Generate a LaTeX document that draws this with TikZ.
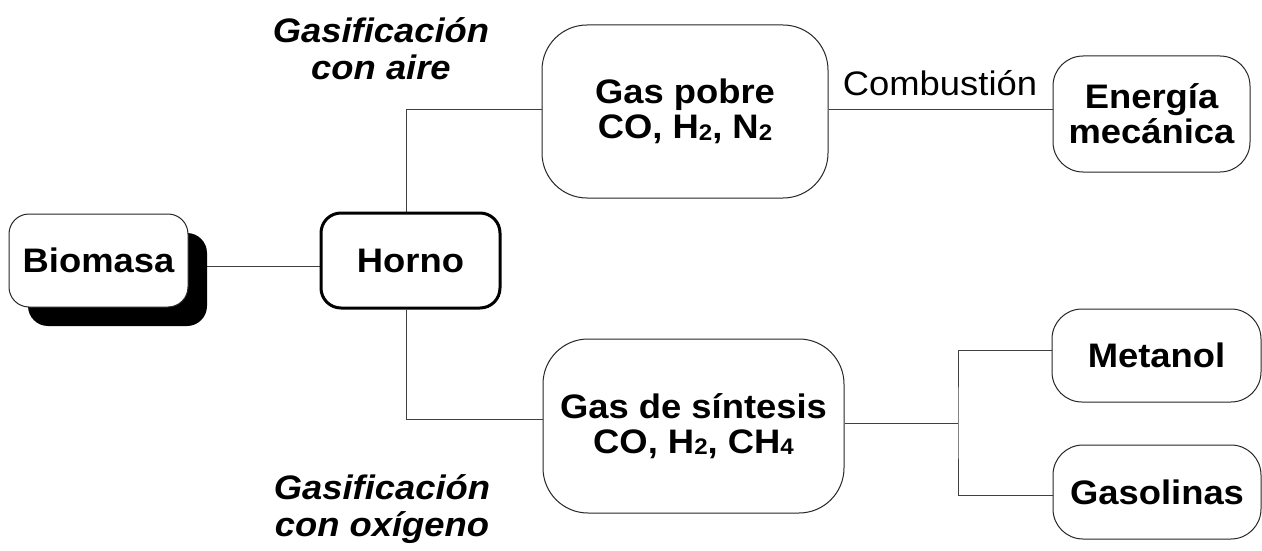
\documentclass[tikz,border=0pt]{standalone}
\usepackage{fontspec}
\setmainfont[FakeStretch=1.07]{Liberation Sans}
\usetikzlibrary{shadows,backgrounds}
\newcommand\subsc[1]{\raisebox{-1.5pt}{\fontsize{22.5}{22.5}\selectfont #1}}
\begin{document}
\begin{tikzpicture}[x=1pt,y=-1pt,
  box/.style={draw=black!85, line width=1pt, fill=white, inner sep=0pt, align=center,
    font=\fontsize{34}{35}\selectfont\bfseries},
  conn/.style={draw=black!75, line width=1pt},
  lab/.style={align=center, inner sep=0pt, font=\fontsize{34}{37}\selectfont\bfseries\itshape}]
\useasboundingbox (0,0) rectangle (1262,551);

\node[box, rounded corners=20pt, minimum width=179pt, minimum height=93pt,
  drop shadow={shadow xshift=19pt, shadow yshift=-19pt, fill=black, opacity=1}]
  (bio) at (98.5,260.5) {Biomasa};
\node[box, rounded corners=20pt, line width=3pt, draw=black, minimum width=179pt, minimum height=95pt]
  (horno) at (410.5,260.5) {\raisebox{-2pt}{Horno}};
\node[box, rounded corners=45pt, minimum width=286pt, minimum height=173pt]
  (gp) at (685,111.5) {Gas pobre\\CO, H\subsc{2}, N\subsc{2}};
\node[box, rounded corners=30pt, minimum width=197pt, minimum height=116pt]
  (en) at (1151.5,114) {Energía\\mecánica};
\node[box, rounded corners=45pt, minimum width=301pt, minimum height=174pt]
  (gs) at (693.5,426) {Gas de síntesis\\CO, H\subsc{2}, CH\subsc{4}};
\node[box, rounded corners=30pt, minimum width=209pt, minimum height=93pt]
  (met) at (1156.5,355.5) {Metanol};
\node[box, rounded corners=30pt, minimum width=208pt, minimum height=94pt]
  (gasol) at (1157,492) {Gasolinas};

\node[lab] (aire) at (381,49) {Gasificación\\con aire};
\node[lab] (oxi) at (382,509) {Gasificación\\con oxígeno};
\node[inner sep=0pt, font=\fontsize{34}{35}\selectfont] (comb) at (940,83) {Combustión};

\coordinate (split) at (958,423);

\begin{scope}[on background layer]
\draw[conn] ([yshift=-6pt]bio.east) -- ([yshift=-6pt]horno.west);
\draw[conn] ([xshift=-4.5pt]horno.north) |- ([yshift=1.5pt]gp.west);
\draw[conn] ([xshift=-4.5pt]horno.south) |- ([yshift=7pt]gs.west);
\draw[conn] ([yshift=1.5pt]gp.east) -- ([yshift=1.5pt]gp.east -| en.west);
\draw[conn] (gs.east |- split) -- (split);
\draw[conn] ([yshift=5.5pt]met.west) -| (split) |- ([yshift=-3pt]gasol.west);
\end{scope}
\end{tikzpicture}
\end{document}
